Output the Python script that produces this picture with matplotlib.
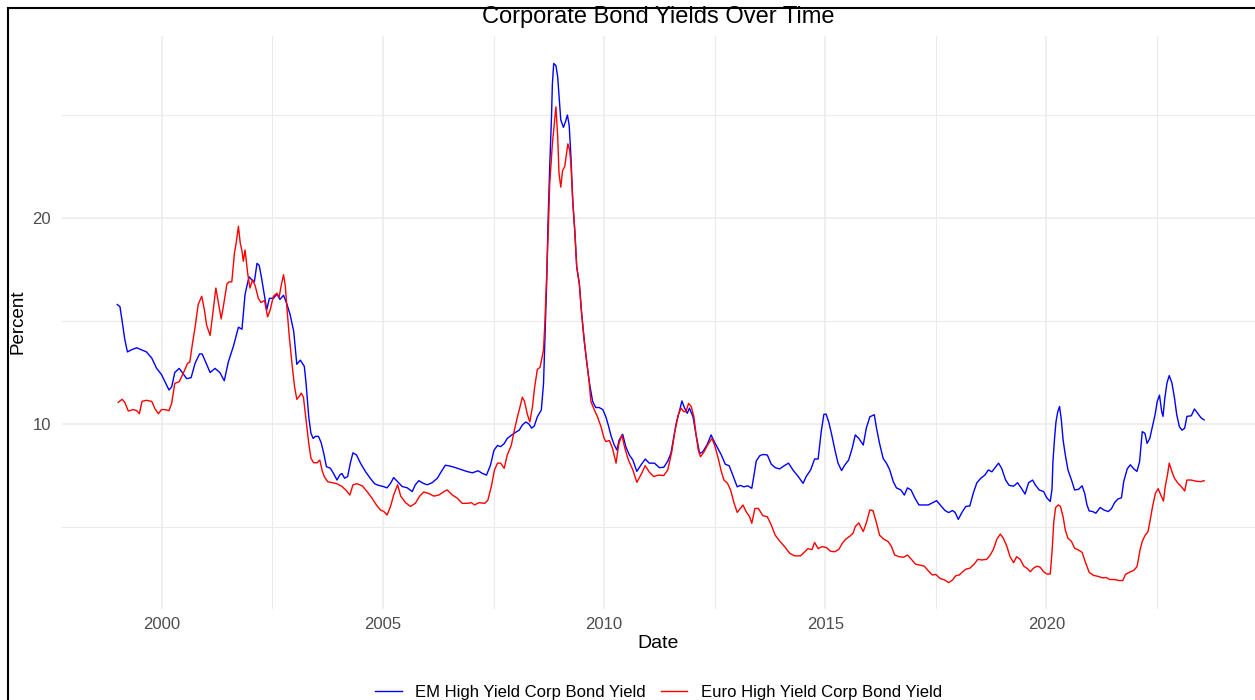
import numpy as np
import matplotlib
matplotlib.use("Agg")
import matplotlib.pyplot as plt
from matplotlib.patches import Rectangle

# --- valores (anio decimal, porcentaje) ---
em_years = [
    1998.99, 1999.05, 1999.10, 1999.16, 1999.22, 1999.31, 1999.43, 1999.54, 1999.65, 1999.77,
    1999.88, 1999.99, 2000.07, 2000.16, 2000.22, 2000.29, 2000.39, 2000.46, 2000.56, 2000.66,
    2000.75, 2000.85, 2000.91, 2000.99, 2001.09, 2001.20, 2001.31, 2001.41, 2001.50, 2001.62,
    2001.73, 2001.81, 2001.88, 2001.97, 2002.03, 2002.09, 2002.15, 2002.20, 2002.26, 2002.32,
    2002.37, 2002.43, 2002.52, 2002.60, 2002.67, 2002.75, 2002.83, 2002.90, 2002.98, 2003.05,
    2003.13, 2003.22, 2003.26, 2003.32, 2003.37, 2003.42, 2003.47, 2003.54, 2003.60, 2003.66,
    2003.72, 2003.81, 2003.88, 2003.96, 2004.02, 2004.07, 2004.13, 2004.20, 2004.26, 2004.32,
    2004.40, 2004.49, 2004.60, 2004.71, 2004.81, 2004.90, 2005.00, 2005.09, 2005.17, 2005.24,
    2005.33, 2005.43, 2005.55, 2005.66, 2005.73, 2005.81, 2005.91, 2006.00, 2006.11, 2006.23,
    2006.32, 2006.41, 2006.53, 2006.64, 2006.75, 2006.89, 2007.02, 2007.15, 2007.25, 2007.34,
    2007.43, 2007.51, 2007.59, 2007.66, 2007.74, 2007.81, 2007.90, 2008.00, 2008.08, 2008.15,
    2008.23, 2008.30, 2008.36, 2008.42, 2008.49, 2008.58, 2008.63, 2008.66, 2008.70, 2008.73,
    2008.77, 2008.81, 2008.83, 2008.86, 2008.91, 2008.95, 2008.98, 2009.02, 2009.08, 2009.13,
    2009.17, 2009.21, 2009.25, 2009.29, 2009.34, 2009.38, 2009.44, 2009.49, 2009.55, 2009.61,
    2009.66, 2009.74, 2009.81, 2009.89, 2009.97, 2010.04, 2010.10, 2010.16, 2010.23, 2010.29,
    2010.34, 2010.42, 2010.49, 2010.57, 2010.65, 2010.74, 2010.83, 2010.93, 2011.02, 2011.14,
    2011.25, 2011.35, 2011.44, 2011.51, 2011.57, 2011.63, 2011.70, 2011.76, 2011.82, 2011.88,
    2011.93, 2012.01, 2012.08, 2012.16, 2012.23, 2012.33, 2012.42, 2012.49, 2012.57, 2012.65,
    2012.74, 2012.83, 2012.91, 2013.01, 2013.08, 2013.16, 2013.25, 2013.34, 2013.39, 2013.44,
    2013.52, 2013.59, 2013.69, 2013.78, 2013.87, 2013.97, 2014.07, 2014.17, 2014.27, 2014.39,
    2014.50, 2014.57, 2014.67, 2014.76, 2014.84, 2014.91, 2014.97, 2015.02, 2015.08, 2015.14,
    2015.22, 2015.29, 2015.37, 2015.44, 2015.53, 2015.61, 2015.68, 2015.76, 2015.86, 2015.93,
    2016.01, 2016.11, 2016.16, 2016.23, 2016.31, 2016.39, 2016.46, 2016.54, 2016.61, 2016.71,
    2016.79, 2016.86, 2016.94, 2017.03, 2017.12, 2017.22, 2017.33, 2017.45, 2017.52, 2017.62,
    2017.71, 2017.79, 2017.88, 2017.94, 2018.01, 2018.09, 2018.18, 2018.27, 2018.35, 2018.43,
    2018.52, 2018.61, 2018.69, 2018.77, 2018.83, 2018.92, 2018.99, 2019.08, 2019.16, 2019.26,
    2019.35, 2019.43, 2019.52, 2019.60, 2019.69, 2019.75, 2019.84, 2019.94, 2020.01, 2020.09,
    2020.13, 2020.15, 2020.19, 2020.22, 2020.26, 2020.30, 2020.34, 2020.38, 2020.43, 2020.49,
    2020.57, 2020.64, 2020.73, 2020.81, 2020.87, 2020.92, 2020.97, 2021.05, 2021.12, 2021.22,
    2021.30, 2021.40, 2021.47, 2021.55, 2021.62, 2021.70, 2021.75, 2021.83, 2021.90, 2021.98,
    2022.05, 2022.11, 2022.17, 2022.23, 2022.28, 2022.34, 2022.40, 2022.46, 2022.51, 2022.56,
    2022.61, 2022.64, 2022.68, 2022.73, 2022.78, 2022.84, 2022.90, 2022.95, 2023.01, 2023.07,
    2023.13, 2023.18, 2023.28, 2023.35, 2023.43, 2023.50, 2023.57,
]
em_yield = [
    15.8, 15.7, 15.0, 14.1, 13.5, 13.6, 13.7, 13.6, 13.5, 13.2,
    12.7, 12.4, 12.05, 11.65, 11.8, 12.5, 12.7, 12.5, 12.2, 12.25,
    12.95, 13.4, 13.4, 13.0, 12.5, 12.7, 12.5, 12.1, 13.0, 13.8,
    14.7, 14.6, 16.3, 17.15, 17.0, 16.9, 17.8, 17.7, 17.0, 16.2,
    15.55, 16.1, 16.1, 16.3, 16.05, 16.25, 15.8, 15.3, 14.5, 12.9,
    13.1, 12.8, 11.97, 10.35, 9.55, 9.3, 9.4, 9.4, 9.1, 8.57,
    7.93, 7.85, 7.6, 7.28, 7.52, 7.6, 7.37, 7.45, 8.1, 8.6,
    8.5, 8.1, 7.7, 7.37, 7.1, 7.02, 6.97, 6.9, 7.12, 7.4,
    7.2, 6.97, 6.9, 6.72, 7.05, 7.25, 7.12, 7.05, 7.15, 7.37,
    7.7, 8.0, 7.95, 7.88, 7.8, 7.7, 7.63, 7.73, 7.6, 7.52,
    8.0, 8.73, 8.96, 8.9, 9.05, 9.3, 9.45, 9.6, 9.7, 9.95,
    10.1, 10.0, 9.8, 9.9, 10.35, 10.68, 11.97, 14.06, 16.8, 19.7,
    22.5, 24.9, 26.5, 27.5, 27.4, 26.85, 25.97, 24.76, 24.4, 24.7,
    25.0, 24.5, 22.97, 20.86, 19.26, 17.64, 16.8, 15.4, 14.06, 12.95,
    12.1, 11.1, 10.8, 10.8, 10.7, 10.35, 9.9, 9.4, 8.98, 8.74,
    9.22, 9.5, 8.9, 8.5, 8.25, 7.7, 8.0, 8.3, 8.1, 8.1,
    7.88, 7.9, 8.2, 8.57, 9.3, 10.03, 10.6, 11.12, 10.77, 10.52,
    10.77, 10.35, 9.47, 8.57, 8.65, 9.0, 9.47, 9.15, 8.82, 8.5,
    8.05, 7.97, 7.52, 6.95, 7.02, 6.95, 7.0, 6.88, 7.52, 8.2,
    8.46, 8.52, 8.5, 8.05, 7.88, 7.82, 7.97, 8.1, 7.77, 7.45,
    7.12, 7.45, 7.77, 8.3, 8.3, 9.63, 10.47, 10.48, 10.1, 9.55,
    8.74, 8.1, 7.74, 8.0, 8.25, 8.82, 9.47, 9.3, 8.98, 9.8,
    10.35, 10.45, 9.8, 9.05, 8.33, 8.08, 7.77, 7.2, 6.9, 6.8,
    6.55, 6.9, 6.8, 6.4, 6.07, 6.07, 6.07, 6.2, 6.28, 6.02,
    5.8, 5.7, 5.8, 5.7, 5.37, 5.7, 6.0, 6.02, 6.65, 7.15,
    7.37, 7.52, 7.77, 7.68, 7.85, 8.1, 7.85, 7.28, 7.02, 6.98,
    7.15, 6.9, 6.6, 7.15, 7.28, 7.05, 6.8, 6.72, 6.42, 6.24,
    6.86, 8.17, 9.39, 10.12, 10.6, 10.85, 10.2, 9.22, 8.5, 7.77,
    7.28, 6.8, 6.83, 7.0, 6.62, 6.07, 5.78, 5.75, 5.67, 5.95,
    5.83, 5.75, 5.88, 6.2, 6.36, 6.42, 7.2, 7.82, 8.02, 7.82,
    7.7, 8.17, 9.63, 9.55, 9.06, 9.3, 9.87, 10.45, 11.1, 11.4,
    10.6, 10.37, 11.25, 12.0, 12.35, 12.0, 11.25, 10.45, 9.87, 9.7,
    9.8, 10.37, 10.4, 10.73, 10.5, 10.3, 10.2,
]

euro_years = [
    1999.01, 1999.10, 1999.16, 1999.24, 1999.35, 1999.43, 1999.49, 1999.55, 1999.65, 1999.77,
    1999.84, 1999.92, 1999.99, 2000.07, 2000.16, 2000.22, 2000.29, 2000.39, 2000.48, 2000.58,
    2000.63, 2000.69, 2000.75, 2000.82, 2000.90, 2000.96, 2001.01, 2001.09, 2001.16, 2001.22,
    2001.28, 2001.34, 2001.40, 2001.47, 2001.52, 2001.58, 2001.64, 2001.68, 2001.73, 2001.77,
    2001.81, 2001.84, 2001.88, 2001.94, 2001.99, 2002.05, 2002.11, 2002.18, 2002.24, 2002.32,
    2002.39, 2002.45, 2002.52, 2002.60, 2002.65, 2002.70, 2002.75, 2002.79, 2002.83, 2002.88,
    2002.94, 2003.00, 2003.05, 2003.11, 2003.15, 2003.20, 2003.26, 2003.32, 2003.37, 2003.43,
    2003.51, 2003.57, 2003.62, 2003.67, 2003.75, 2003.85, 2003.96, 2004.07, 2004.17, 2004.25,
    2004.32, 2004.41, 2004.53, 2004.64, 2004.75, 2004.85, 2004.94, 2005.02, 2005.09, 2005.17,
    2005.24, 2005.33, 2005.40, 2005.51, 2005.62, 2005.73, 2005.83, 2005.92, 2006.04, 2006.15,
    2006.26, 2006.38, 2006.45, 2006.57, 2006.68, 2006.79, 2006.91, 2007.00, 2007.07, 2007.17,
    2007.30, 2007.37, 2007.45, 2007.52, 2007.59, 2007.66, 2007.74, 2007.81, 2007.90, 2007.97,
    2008.04, 2008.10, 2008.15, 2008.20, 2008.26, 2008.32, 2008.38, 2008.43, 2008.49, 2008.55,
    2008.57, 2008.63, 2008.66, 2008.70, 2008.74, 2008.77, 2008.83, 2008.88, 2008.91, 2008.95,
    2008.98, 2009.02, 2009.06, 2009.11, 2009.15, 2009.18, 2009.22, 2009.25, 2009.29, 2009.34,
    2009.38, 2009.44, 2009.49, 2009.55, 2009.61, 2009.66, 2009.70, 2009.78, 2009.85, 2009.93,
    2010.00, 2010.04, 2010.12, 2010.19, 2010.27, 2010.33, 2010.40, 2010.47, 2010.55, 2010.65,
    2010.74, 2010.83, 2010.93, 2011.02, 2011.12, 2011.23, 2011.35, 2011.44, 2011.53, 2011.60,
    2011.68, 2011.74, 2011.80, 2011.85, 2011.91, 2011.97, 2012.03, 2012.08, 2012.13, 2012.18,
    2012.26, 2012.34, 2012.44, 2012.51, 2012.59, 2012.65, 2012.71, 2012.79, 2012.86, 2012.94,
    2013.01, 2013.08, 2013.14, 2013.21, 2013.29, 2013.34, 2013.41, 2013.49, 2013.59, 2013.69,
    2013.78, 2013.87, 2013.97, 2014.08, 2014.20, 2014.31, 2014.44, 2014.54, 2014.61, 2014.70,
    2014.76, 2014.84, 2014.93, 2015.03, 2015.12, 2015.22, 2015.31, 2015.39, 2015.46, 2015.56,
    2015.63, 2015.68, 2015.76, 2015.86, 2015.93, 2016.01, 2016.08, 2016.16, 2016.23, 2016.33,
    2016.42, 2016.50, 2016.57, 2016.67, 2016.77, 2016.86, 2016.95, 2017.04, 2017.14, 2017.24,
    2017.33, 2017.42, 2017.50, 2017.60, 2017.70, 2017.79, 2017.88, 2017.95, 2018.03, 2018.11,
    2018.18, 2018.27, 2018.37, 2018.45, 2018.54, 2018.65, 2018.72, 2018.80, 2018.88, 2018.96,
    2019.03, 2019.11, 2019.18, 2019.26, 2019.33, 2019.41, 2019.49, 2019.56, 2019.64, 2019.71,
    2019.79, 2019.86, 2019.94, 2020.01, 2020.09, 2020.13, 2020.17, 2020.21, 2020.27, 2020.32,
    2020.38, 2020.43, 2020.49, 2020.57, 2020.64, 2020.73, 2020.81, 2020.88, 2020.97, 2021.07,
    2021.18, 2021.27, 2021.35, 2021.44, 2021.55, 2021.65, 2021.73, 2021.79, 2021.88, 2021.98,
    2022.05, 2022.08, 2022.12, 2022.17, 2022.23, 2022.30, 2022.35, 2022.41, 2022.47, 2022.53,
    2022.59, 2022.65, 2022.69, 2022.74, 2022.78, 2022.84, 2022.90, 2022.98, 2023.05, 2023.13,
    2023.18, 2023.28, 2023.37, 2023.49, 2023.57,
]
euro_yield = [
    11.05, 11.2, 11.05, 10.63, 10.7, 10.65, 10.5, 11.1, 11.15, 11.1,
    10.75, 10.5, 10.7, 10.7, 10.65, 11.0, 11.97, 12.05, 12.45, 12.95,
    13.0, 13.9, 14.7, 15.8, 16.2, 15.55, 14.8, 14.3, 15.55, 16.6,
    15.85, 15.1, 15.85, 16.8, 16.9, 16.9, 18.3, 18.8, 19.6, 18.8,
    18.4, 17.9, 18.45, 17.3, 16.6, 17.0, 16.7, 16.1, 15.9, 16.0,
    15.2, 15.55, 16.2, 16.35, 16.15, 16.75, 17.25, 16.7, 15.55, 14.25,
    12.95, 11.8, 11.2, 11.35, 11.5, 11.3, 10.2, 9.07, 8.34, 8.12,
    8.12, 8.25, 7.77, 7.45, 7.2, 7.15, 7.1, 6.97, 6.77, 6.55,
    7.05, 7.1, 7.0, 6.72, 6.4, 6.07, 5.83, 5.75, 5.58, 6.0,
    6.55, 7.05, 6.5, 6.18, 6.0, 6.15, 6.5, 6.7, 6.62, 6.5,
    6.55, 6.72, 6.8, 6.55, 6.4, 6.15, 6.15, 6.18, 6.07, 6.18,
    6.15, 6.3, 6.97, 7.77, 8.1, 8.1, 7.85, 8.5, 8.96, 9.7,
    10.35, 10.85, 11.3, 11.1, 10.5, 10.1, 10.85, 11.8, 12.65, 12.75,
    12.95, 13.6, 14.9, 17.15, 19.57, 21.67, 23.6, 24.76, 25.4, 23.95,
    22.17, 21.5, 22.3, 22.5, 23.14, 23.6, 23.3, 22.6, 20.86, 19.26,
    17.64, 16.8, 15.4, 14.06, 12.95, 12.1, 11.1, 10.68, 10.35, 9.87,
    9.3, 9.15, 9.2, 8.82, 8.1, 9.0, 9.47, 8.82, 8.25, 7.77,
    7.17, 7.52, 7.98, 7.67, 7.45, 7.52, 7.5, 7.77, 8.66, 9.63,
    10.47, 10.77, 10.6, 10.6, 11.0, 10.85, 10.35, 9.47, 8.73, 8.41,
    8.65, 8.98, 9.3, 8.9, 8.25, 7.7, 7.28, 7.12, 6.8, 6.15,
    5.71, 5.9, 6.07, 5.75, 5.5, 5.18, 5.9, 5.9, 5.55, 5.5,
    5.1, 4.6, 4.32, 4.05, 3.72, 3.6, 3.6, 3.8, 3.95, 3.9,
    4.25, 3.95, 4.05, 4.0, 3.82, 3.8, 3.92, 4.22, 4.4, 4.56,
    4.7, 5.02, 5.2, 4.78, 5.2, 5.83, 5.8, 5.2, 4.6, 4.4,
    4.3, 4.05, 3.64, 3.56, 3.53, 3.64, 3.43, 3.2, 3.15, 3.1,
    2.88, 2.67, 2.7, 2.5, 2.43, 2.3, 2.43, 2.63, 2.67, 2.83,
    2.95, 3.0, 3.2, 3.43, 3.4, 3.43, 3.6, 3.9, 4.4, 4.66,
    4.45, 4.05, 3.56, 3.27, 3.56, 3.43, 3.1, 3.0, 2.83, 3.0,
    3.1, 3.05, 2.83, 2.72, 2.72, 3.8, 5.26, 5.94, 6.07, 6.0,
    5.5, 4.85, 4.45, 4.3, 3.97, 3.88, 3.77, 3.32, 2.8, 2.65,
    2.6, 2.53, 2.55, 2.45, 2.45, 2.4, 2.4, 2.7, 2.8, 2.9,
    3.07, 3.4, 3.88, 4.3, 4.58, 4.78, 5.34, 6.07, 6.65, 6.86,
    6.55, 6.26, 6.97, 7.52, 8.1, 7.7, 7.36, 7.12, 6.97, 6.75,
    7.28, 7.28, 7.23, 7.2, 7.25,
]

x_ticks = [2000, 2005, 2010, 2015, 2020]
x_minor = [2002.5, 2007.5, 2012.5, 2017.5, 2022.5]
y_ticks = [10, 20]
y_minor = [5, 15, 25]
series_labels = ["EM High Yield Corp Bond Yield", "Euro High Yield Corp Bond Yield"]

plt.rcParams['font.family'] = ['Liberation Sans', 'DejaVu Sans']

fig = plt.figure(figsize=(12.55, 7.0), dpi=100)
fig.patch.set_facecolor('white')
ax = fig.add_axes([62 / 1255, 1 - 609 / 700, 1 - 62 / 1255, (609 - 35.7) / 700])

ax.plot(em_years, em_yield, color='blue', lw=1.0, label=series_labels[0])
ax.plot(euro_years, euro_yield, color='red', lw=1.0, label=series_labels[1])

# ticks primero, limites despues (set_xticks puede ampliar la vista)
ax.set_xticks(x_ticks)
ax.set_xticks(x_minor, minor=True)
ax.set_yticks(y_ticks)
ax.set_yticks(y_minor, minor=True)
ax.set_xlim(1997.74, 2024.72)
ax.set_ylim(1.02, 28.85)

ax.grid(which='major', color='#ebebeb', lw=1.1)
ax.grid(which='minor', color='#ebebeb', lw=0.8)
ax.set_axisbelow(True)
for s in ax.spines.values():
    s.set_visible(False)
ax.tick_params(which='both', length=0)
ax.tick_params(axis='x', labelsize=12, labelcolor='#4d4d4d', pad=6)
ax.tick_params(axis='y', labelsize=12, labelcolor='#4d4d4d', pad=8)

cx = (62 + 1255) / 2 / 1255
fig.text(cx, 1 - 17.5 / 700, "Corporate Bond Yields Over Time", ha='center', va='center',
         fontsize=17, color='black')
fig.text(cx, 1 - 643 / 700, "Date", ha='center', va='center', fontsize=14, color='black')
fig.text(18 / 1255, 1 - 322 / 700, "Percent", ha='center', va='center', rotation=90,
         fontsize=13.5, color='black')

fig.legend(loc='center', bbox_to_anchor=(cx, 1 - 692 / 700), ncol=2, frameon=False,
           fontsize=12, handlelength=1.6, handletextpad=0.8, columnspacing=0.9)

# marco negro de la captura
fig.patches.append(Rectangle((8 / 1255, -0.1), 1.2, 1.1 - 8 / 700, transform=fig.transFigure,
                             fill=False, ec='black', lw=1.5, zorder=10))

fig.savefig("out.png", dpi=100)
